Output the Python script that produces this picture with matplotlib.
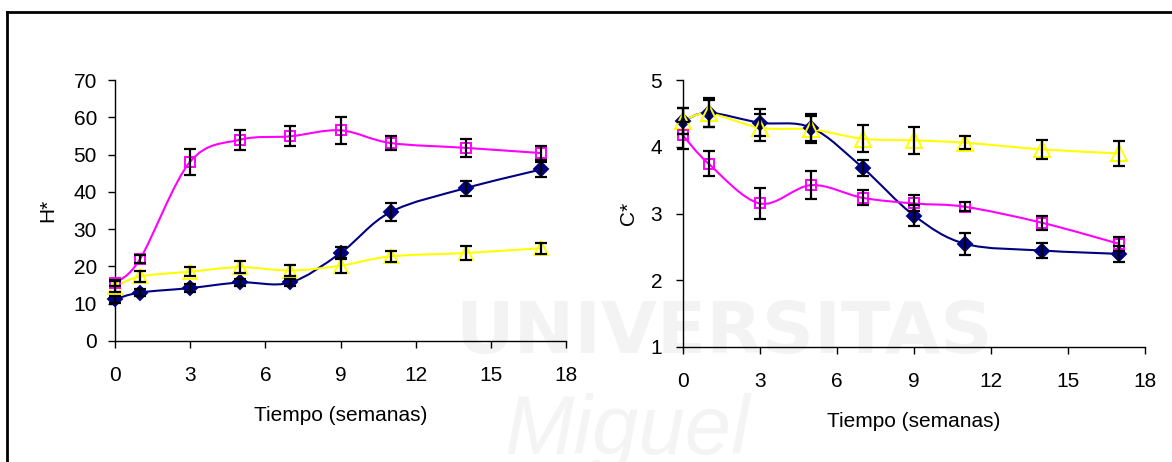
import numpy as np
import matplotlib.pyplot as plt
from matplotlib.path import Path
from matplotlib.patches import PathPatch
from matplotlib.lines import Line2D

plt.rcParams['font.family'] = ['Liberation Sans', 'DejaVu Sans']

# semanas
semanas = [0, 1, 3, 5, 7, 9, 11, 14, 17]

# H* (tono)
h_rosa = [15.5, 22.0, 48.1, 54.0, 54.9, 56.5, 53.1, 51.8, 50.4]
h_rosa_err = [0.8, 1.0, 3.5, 2.7, 2.7, 3.7, 1.8, 2.5, 1.9]
h_azul = [11.2, 13.0, 14.2, 15.7, 15.7, 23.6, 34.6, 41.0, 46.0]
h_azul_err = [1.0, 1.0, 1.0, 1.0, 1.0, 1.5, 2.3, 2.0, 2.1]
h_amar = [14.6, 17.3, 18.6, 19.8, 18.9, 20.2, 22.7, 23.6, 24.9]
h_amar_err = [1.5, 1.5, 1.3, 1.6, 1.5, 2.0, 1.5, 2.0, 1.5]

# C* (croma)
c_rosa = [4.17, 3.745, 3.15, 3.425, 3.235, 3.15, 3.10, 2.86, 2.545]
c_rosa_err = [0.2, 0.19, 0.23, 0.21, 0.11, 0.12, 0.07, 0.11, 0.1]
c_azul = [4.385, 4.51, 4.36, 4.285, 3.685, 2.97, 2.545, 2.445, 2.395]
c_azul_err = [0.2, 0.22, 0.2, 0.2, 0.12, 0.15, 0.16, 0.11, 0.12]
c_amar = [4.385, 4.50, 4.285, 4.26, 4.12, 4.095, 4.06, 3.96, 3.90]
c_amar_err = [0.2, 0.2, 0.2, 0.2, 0.2, 0.2, 0.1, 0.14, 0.19]

ROSA = '#FF00FF'
AZUL = '#000080'
AMAR = '#FFFF00'


def linea_suave(ax, x, y, color):
    # curva suavizada tipo Excel (bezier cubica)
    x = np.asarray(x, float)
    y = np.asarray(y, float)
    n = len(x)
    verts = [(x[0], y[0])]
    codes = [Path.MOVETO]
    for i in range(n - 1):
        i0 = max(i - 1, 0)
        i3 = min(i + 2, n - 1)
        c1 = (x[i] + (x[i + 1] - x[i0]) / 6, y[i] + (y[i + 1] - y[i0]) / 6)
        c2 = (x[i + 1] - (x[i3] - x[i]) / 6, y[i + 1] - (y[i3] - y[i]) / 6)
        verts += [c1, c2, (x[i + 1], y[i + 1])]
        codes += [Path.CURVE4] * 3
    ax.add_patch(PathPatch(Path(verts, codes), facecolor='none',
                           edgecolor=color, lw=1.5, zorder=2, clip_on=False))


def serie(ax, y, err, color, marker, ms, fill):
    linea_suave(ax, semanas, y, color)
    eb = ax.errorbar(semanas, y, yerr=err, fmt='none', ecolor='black',
                     elinewidth=1.6, capsize=4, capthick=1.6, zorder=4)
    for art in eb.lines[1] + eb.lines[2]:
        art.set_clip_on(False)
    ax.plot(semanas, y, linestyle='none', marker=marker, ms=ms,
            mec=color, mfc=color if fill else 'none', mew=1.4, zorder=3,
            clip_on=False)


fig = plt.figure(figsize=(11.72, 4.62), dpi=100)

# marca de agua
fig.text(0.618, 1 - 333 / 462, 'UNIVERSITAS', ha='center', va='center',
         fontsize=52, fontweight='bold', color='#f3f3f3',
         family='Liberation Sans Narrow', zorder=0)
fig.text(0.535, 1 - 432 / 462, 'Miguel', ha='center', va='center',
         fontsize=60, style='italic', color='#f4f4f4', zorder=0)

# marco
fig.add_artist(Line2D([7 / 1172, 1], [1 - 12 / 462] * 2, color='black', lw=2))
fig.add_artist(Line2D([7 / 1172] * 2, [0, 1 - 12 / 462], color='black', lw=2))

ax1 = fig.add_axes([115 / 1172, 1 - 341 / 462, 451 / 1172, 261 / 462])
ax2 = fig.add_axes([683 / 1172, 1 - 347 / 462, 462 / 1172, 267 / 462])

serie(ax1, h_azul, h_azul_err, AZUL, 'D', 7, True)
serie(ax1, h_amar, h_amar_err, AMAR, '^', 10, False)
serie(ax1, h_rosa, h_rosa_err, ROSA, 's', 7, False)

serie(ax2, c_azul, c_azul_err, AZUL, 'D', 7, True)
serie(ax2, c_amar, c_amar_err, AMAR, '^', 11, False)
serie(ax2, c_rosa, c_rosa_err, ROSA, 's', 7, False)

ax1.set_ylim(0, 70)
ax1.set_yticks(range(0, 71, 10))
ax2.set_ylim(1, 5)
ax2.set_yticks(range(1, 6))

for ax, lab, ypad, lx in [(ax1, 'H*', 8, -0.128), (ax2, 'C*', 10, -0.098)]:
    ax.set_zorder(2)
    ax.patch.set_visible(False)
    ax.set_xlim(0, 18)
    ax.set_xticks(range(0, 19, 3))
    ax.spines['top'].set_visible(False)
    ax.spines['right'].set_visible(False)
    ax.spines['left'].set_linewidth(1)
    ax.spines['bottom'].set_linewidth(1)
    ax.tick_params(axis='x', length=5, width=1, pad=13, labelsize=15)
    ax.tick_params(axis='y', length=5, width=1, pad=ypad, labelsize=15)
    ax.set_xlabel('Tiempo (semanas)', fontsize=15, labelpad=15)
    ax.set_ylabel(lab, fontsize=15)
    ax.yaxis.set_label_coords(lx, 0.5)

fig.savefig('out.png', dpi=100)
